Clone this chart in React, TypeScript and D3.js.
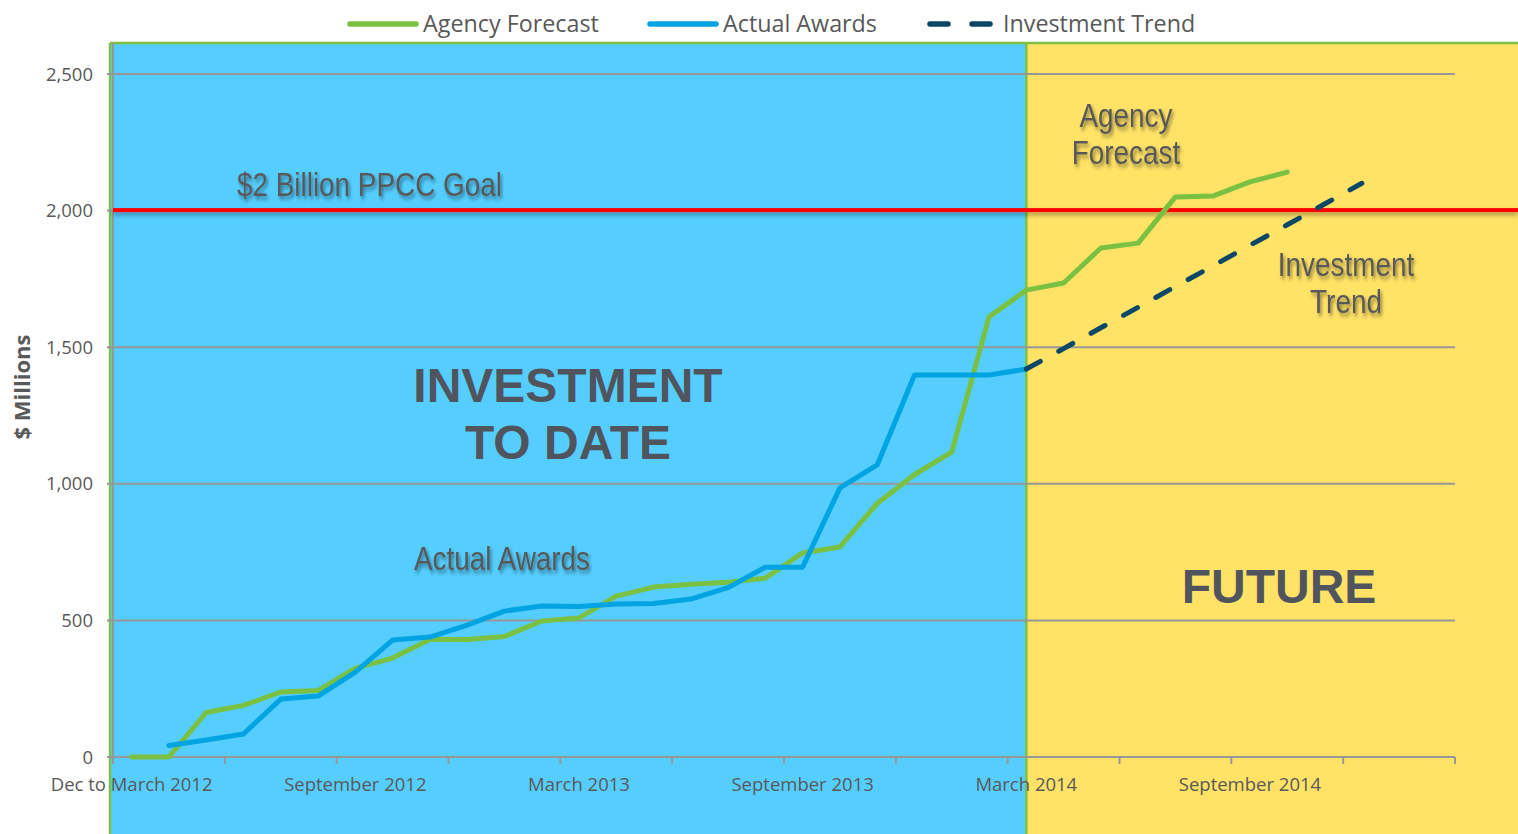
import React from 'react'
import * as d3 from 'd3'

const months = [
  'Dec to March 2012', 'April 2012', 'May 2012', 'June 2012', 'July 2012', 'August 2012',
  'September 2012', 'October 2012', 'November 2012', 'December 2012', 'January 2013', 'February 2013',
  'March 2013', 'April 2013', 'May 2013', 'June 2013', 'July 2013', 'August 2013',
  'September 2013', 'October 2013', 'November 2013', 'December 2013', 'January 2014', 'February 2014',
  'March 2014', 'April 2014', 'May 2014', 'June 2014', 'July 2014', 'August 2014',
  'September 2014', 'October 2014', 'November 2014', 'December 2014', 'January 2015', 'February 2015',
]

const agencyForecast = [
  0, 0, 163, 189, 238, 243, 325, 362, 430, 430, 441, 498,
  509, 589, 622, 632, 640, 655, 747, 769, 928, 1034, 1116, 1611,
  1709, 1735, 1863, 1881, 2050, 2053, 2105, 2141, null, null, null, null,
]

const actualAwards = [
  null, 42, 62, 84, 212, 223, 311, 428, 439, 483, 534, 553,
  551, 560, 562, 578, 620, 695, 695, 985, 1069, 1398, 1398, 1398,
  1420, null, null, null, null, null, null, null, null, null, null, null,
]

const investmentTrend = [
  null, null, null, null, null, null, null, null, null, null, null, null,
  null, null, null, null, null, null, null, null, null, null, null, null,
  1420, 1495, 1571, 1646, 1722, 1797, 1873, 1948, 2024, 2100, null, null,
]

const yTicks = [0, 500, 1000, 1500, 2000, 2500]
const goal = 2000
const futureStart = 'March 2014'

const width = 1518
const height = 834
const plot = { left: 113, right: 1455, top: 74, bottom: 757 }
const frameTop = 43
const frameLeft = 110

const colors = {
  past: '#55CEFF',
  future: '#FFE266',
  frame: '#7CC142',
  grid: '#979797',
  forecast: '#7AC142',
  awards: '#00A4E2',
  trend: '#0B4865',
  goal: '#FF0000',
  text: '#595959',
  big: '#50555D',
}

const tickFont = '"Open Sans", sans-serif'
const noteFont = '"Liberation Sans", Arial, sans-serif'
const boldFont = '"Liberation Sans", Arial, sans-serif'

const xBand = d3.scaleBand().domain(months).range([plot.left, plot.right]).padding(0)
const cx = (i: number) => (xBand(months[i]) as number) + xBand.bandwidth() / 2
const yScale = d3.scaleLinear().domain([0, 2500]).range([plot.bottom, plot.top])

const lineGen = d3
  .line<number | null>()
  .defined(d => d != null)
  .x((d, i) => cx(i))
  .y(d => yScale(d as number))

function Background() {
  const split = cx(months.indexOf(futureStart))
  return (
    <g>
      <rect x={frameLeft} y={frameTop} width={split - frameLeft} height={height - frameTop} fill={colors.past} />
      <rect x={split} y={frameTop} width={width - split} height={height - frameTop} fill={colors.future} />
      <line x1={frameLeft} x2={width} y1={frameTop} y2={frameTop} stroke={colors.frame} strokeWidth={2.5} />
      <line x1={frameLeft} x2={frameLeft} y1={frameTop} y2={height} stroke={colors.frame} strokeWidth={2.5} />
      <line x1={split} x2={split} y1={frameTop} y2={height} stroke={colors.frame} strokeWidth={2.5} />
    </g>
  )
}

function Grid() {
  return (
    <g>
      {yTicks.map(t => (
        <g key={t}>
          <line x1={plot.left - 6} x2={plot.right} y1={yScale(t)} y2={yScale(t)} stroke={colors.grid} strokeWidth={2} />
          <text
            x={93}
            y={yScale(t)}
            dy="0.36em"
            textAnchor="end"
            fontFamily={tickFont}
            fontSize={18.5}
            fill={colors.text}
          >
            {d3.format(',')(t)}
          </text>
        </g>
      ))}
      <line x1={plot.left} x2={plot.left} y1={frameTop} y2={plot.bottom + 6} stroke={colors.grid} strokeWidth={2} />
    </g>
  )
}

function XAxis() {
  const bounds = months.map((m, i) => i).filter(i => i % 3 === 0).map(i => xBand(months[i]) as number)
  bounds.push(plot.right)
  return (
    <g>
      {bounds.map((b, i) => (
        <line key={i} x1={b} x2={b} y1={plot.bottom} y2={plot.bottom + 7} stroke={colors.grid} strokeWidth={2} />
      ))}
      {months.map((m, i) =>
        i % 6 === 0 ? (
          <text
            key={m}
            x={cx(i)}
            y={791}
            textAnchor="middle"
            fontFamily={tickFont}
            fontSize={18.5}
            fill={colors.text}
          >
            {m}
          </text>
        ) : null
      )}
    </g>
  )
}

function Legend() {
  const items = [
    { label: 'Agency Forecast', color: colors.forecast, x: 348, dash: null },
    { label: 'Actual Awards', color: colors.awards, x: 648, dash: null },
    { label: 'Investment Trend', color: colors.trend, x: 928, dash: '18 24' },
  ]
  return (
    <g>
      {items.map(it => (
        <g key={it.label}>
          <line
            x1={it.x + 2}
            x2={it.x + 68}
            y1={24}
            y2={24}
            stroke={it.color}
            strokeWidth={5.5}
            strokeLinecap="round"
            strokeDasharray={it.dash || undefined}
          />
          <text x={it.x + 75} y={24} dy="0.36em" fontFamily={tickFont} fontSize={23.3} fill={colors.text}>
            {it.label}
          </text>
        </g>
      ))}
    </g>
  )
}

// narrow annotation font is not installed, so squeeze Liberation Sans horizontally
function Note({ x, y, lines, anchor = 'middle' }: { x: number; y: number; lines: string[]; anchor?: string }) {
  return (
    <g transform={`translate(${x}, ${y}) scale(0.82, 1)`} filter="url(#textShadow)">
      <text textAnchor={anchor} fontFamily={noteFont} fontSize={34} fill={colors.text}>
        {lines.map((l, i) => (
          <tspan key={l} x={0} dy={i === 0 ? 0 : 37}>
            {l}
          </tspan>
        ))}
      </text>
    </g>
  )
}

export default function App() {
  const gy = yScale(goal)
  return (
    <svg width={width} height={height} style={{ position: 'absolute', left: 0, top: 0 }}>
      <defs>
        <filter id="textShadow" x="-10%" y="-30%" width="130%" height="170%">
          <feDropShadow dx="2" dy="3" stdDeviation="2" floodColor="#000" floodOpacity="0.45" />
        </filter>
        <filter id="lineShadow" filterUnits="userSpaceOnUse" x={0} y={gy - 20} width={width} height={40}>
          <feDropShadow dx="0" dy="3" stdDeviation="2" floodColor="#000" floodOpacity="0.35" />
        </filter>
      </defs>
      <rect width={width} height={height} fill="#fff" />
      <Background />
      <Grid />
      <XAxis />

      <text
        transform={`translate(30, 387) rotate(-90)`}
        textAnchor="middle"
        fontFamily={tickFont}
        fontWeight="bold"
        fontSize={22}
        fill={colors.text}
      >
        $ Millions
      </text>

      <rect x={plot.left} y={gy - 2.5} width={width - plot.left} height={4} fill={colors.goal} filter="url(#lineShadow)" />

      <path d={lineGen(agencyForecast) || ''} fill="none" stroke={colors.forecast} strokeWidth={5} strokeLinejoin="round" strokeLinecap="round" />
      <path d={lineGen(actualAwards) || ''} fill="none" stroke={colors.awards} strokeWidth={5} strokeLinejoin="round" strokeLinecap="round" />
      <path
        d={lineGen(investmentTrend) || ''}
        fill="none"
        stroke={colors.trend}
        strokeWidth={5}
        strokeLinecap="round"
        strokeDasharray="16 21"
      />

      <Legend />

      <Note x={237} y={196} lines={['$2 Billion PPCC Goal']} anchor="start" />
      <Note x={1126} y={127} lines={['Agency', 'Forecast']} />
      <Note x={1346} y={276} lines={['Investment', 'Trend']} />
      <Note x={502} y={570} lines={['Actual Awards']} />

      <g fontFamily={boldFont} fontWeight="bold" fontSize={48} fill={colors.big} textAnchor="middle">
        <text x={568} y={402}>INVESTMENT</text>
        <text x={568} y={459}>TO DATE</text>
        <text x={1279} y={603}>FUTURE</text>
      </g>
    </svg>
  )
}
